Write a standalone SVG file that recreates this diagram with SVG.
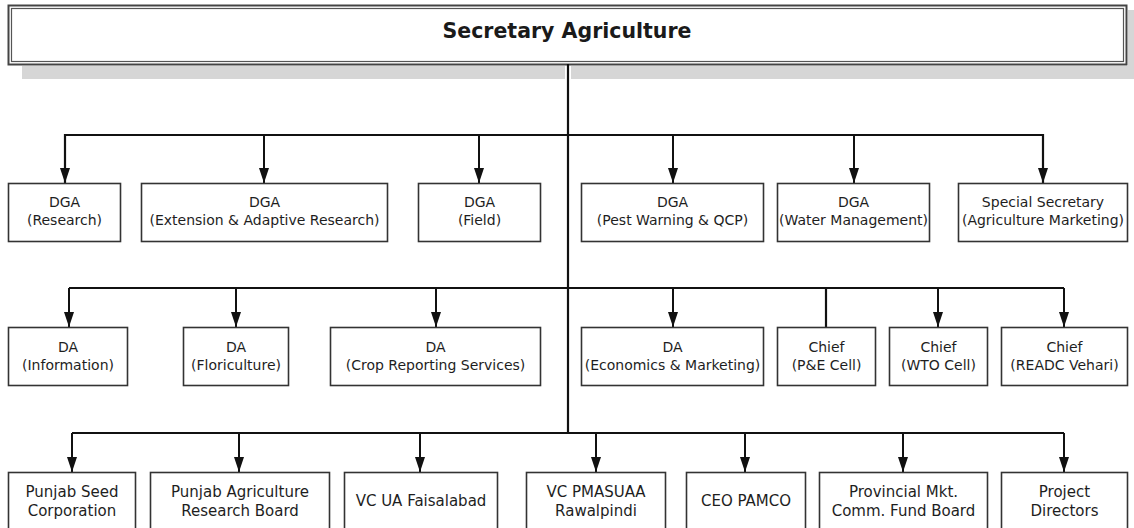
<svg xmlns="http://www.w3.org/2000/svg" width="1134" height="528" viewBox="0 0 1134 528">
<defs>
<marker id="arr" viewBox="0 0 15 10" refX="15" refY="5" markerWidth="15" markerHeight="10" markerUnits="userSpaceOnUse" orient="auto">
<path d="M0,0 L15,5 L0,10 z" fill="#111"/>
</marker>
</defs>
<style>
.box{fill:#fff;stroke:#333;stroke-width:1.6}
.t{font-family:"DejaVu Sans",Verdana,sans-serif;font-size:14px;fill:#1e1e1e;text-anchor:middle}
.t3{font-family:"DejaVu Sans",Verdana,sans-serif;font-size:15px;fill:#1e1e1e;text-anchor:middle}
.title{font-family:"DejaVu Sans",Verdana,sans-serif;font-size:20.5px;font-weight:bold;fill:#1a1a1a;text-anchor:middle}
.ln{fill:none;stroke:#111;stroke-width:2.2}
.ar{fill:none;stroke:#111;stroke-width:2;marker-end:url(#arr)}
</style>
<rect x="0" y="0" width="1134" height="528" fill="#fff"/>

<g id="top">
<rect x="22" y="66" width="543" height="13" fill="#d6d6d6"/>
<rect x="571" y="66" width="563" height="13" fill="#d6d6d6"/>
<rect x="1128" y="10" width="6" height="60" fill="#d6d6d6"/>
<rect x="8.5" y="5.5" width="1118" height="59" fill="#fff" stroke="#444" stroke-width="2"/>
<rect x="11.5" y="8.5" width="1112" height="53" fill="none" stroke="#555" stroke-width="1.2"/>
<text class="title" x="567" y="38">Secretary Agriculture</text>
</g>

<g id="connectors">
<line class="ln" x1="568" y1="64" x2="568" y2="434" stroke-width="3"/>
<polyline class="ln" points="65,184 65,135 1043,135 1043,184" style="fill:none"/>
<line class="ar" x1="65" y1="135" x2="65" y2="183"/>
<line class="ar" x1="264" y1="135" x2="264" y2="183"/>
<line class="ar" x1="479" y1="135" x2="479" y2="183"/>
<line class="ar" x1="673" y1="135" x2="673" y2="183"/>
<line class="ar" x1="854" y1="135" x2="854" y2="183"/>
<line class="ar" x1="1043" y1="135" x2="1043" y2="183"/>

<line class="ln" x1="69" y1="288" x2="1064" y2="288"/>
<line class="ar" x1="69" y1="288" x2="69" y2="327"/>
<line class="ar" x1="236" y1="288" x2="236" y2="327"/>
<line class="ar" x1="436" y1="288" x2="436" y2="327"/>
<line class="ar" x1="673" y1="288" x2="673" y2="327"/>
<line class="ln" x1="826" y1="288" x2="826" y2="327" stroke-width="1.8"/>
<line class="ar" x1="938" y1="288" x2="938" y2="327"/>
<line class="ar" x1="1064" y1="288" x2="1064" y2="327"/>

<line class="ln" x1="72" y1="433" x2="1064" y2="433"/>
<line class="ar" x1="72" y1="433" x2="72" y2="472"/>
<line class="ar" x1="239" y1="433" x2="239" y2="472"/>
<line class="ar" x1="420" y1="433" x2="420" y2="472"/>
<line class="ar" x1="596" y1="433" x2="596" y2="472"/>
<line class="ar" x1="745" y1="433" x2="745" y2="472"/>
<line class="ar" x1="903" y1="433" x2="903" y2="472"/>
<line class="ar" x1="1064" y1="433" x2="1064" y2="472"/>
</g>

<g id="r1n1"><rect class="box" x="8.5" y="183.5" width="112" height="58"/><text class="t" x="64.5" y="207">DGA</text><text class="t" x="64.5" y="225">(Research)</text></g>
<g id="r1n2"><rect class="box" x="141.5" y="183.5" width="246" height="58"/><text class="t" x="264.5" y="207">DGA</text><text class="t" x="264.5" y="225">(Extension &amp; Adaptive Research)</text></g>
<g id="r1n3"><rect class="box" x="418.5" y="183.5" width="122" height="58"/><text class="t" x="479.5" y="207">DGA</text><text class="t" x="479.5" y="225">(Field)</text></g>
<g id="r1n4"><rect class="box" x="581.5" y="183.5" width="182" height="58"/><text class="t" x="672.5" y="207">DGA</text><text class="t" x="672.5" y="225">(Pest Warning &amp; QCP)</text></g>
<g id="r1n5"><rect class="box" x="777.5" y="183.5" width="152" height="58"/><text class="t" x="853.5" y="207">DGA</text><text class="t" x="853.5" y="225">(Water Management)</text></g>
<g id="r1n6"><rect class="box" x="958.5" y="183.5" width="169" height="58"/><text class="t" x="1043" y="207">Special Secretary</text><text class="t" x="1043" y="225">(Agriculture Marketing)</text></g>

<g id="r2n1"><rect class="box" x="8.5" y="327.5" width="119" height="58"/><text class="t" x="68" y="352">DA</text><text class="t" x="68" y="370">(Information)</text></g>
<g id="r2n2"><rect class="box" x="183.5" y="327.5" width="105" height="58"/><text class="t" x="236" y="352">DA</text><text class="t" x="236" y="370">(Floriculture)</text></g>
<g id="r2n3"><rect class="box" x="330.5" y="327.5" width="210" height="58"/><text class="t" x="435.5" y="352">DA</text><text class="t" x="435.5" y="370">(Crop Reporting Services)</text></g>
<g id="r2n4"><rect class="box" x="581.5" y="327.5" width="182" height="58"/><text class="t" x="672.5" y="352">DA</text><text class="t" x="672.5" y="370">(Economics &amp; Marketing)</text></g>
<g id="r2n5"><rect class="box" x="777.5" y="327.5" width="98" height="58"/><text class="t" x="826.5" y="352">Chief</text><text class="t" x="826.5" y="370">(P&amp;E Cell)</text></g>
<g id="r2n6"><rect class="box" x="889.5" y="327.5" width="98" height="58"/><text class="t" x="938.5" y="352">Chief</text><text class="t" x="938.5" y="370">(WTO Cell)</text></g>
<g id="r2n7"><rect class="box" x="1001.5" y="327.5" width="126" height="58"/><text class="t" x="1064.5" y="352">Chief</text><text class="t" x="1064.5" y="370">(READC Vehari)</text></g>

<g id="r3n1"><rect class="box" x="8.5" y="472.5" width="127" height="70"/><text class="t3" x="72" y="497">Punjab Seed</text><text class="t3" x="72" y="516">Corporation</text></g>
<g id="r3n2"><rect class="box" x="150.5" y="472.5" width="179" height="70"/><text class="t3" x="240" y="497">Punjab Agriculture</text><text class="t3" x="240" y="516">Research Board</text></g>
<g id="r3n3"><rect class="box" x="344.5" y="472.5" width="153" height="70"/><text class="t3" x="421" y="506">VC UA Faisalabad</text></g>
<g id="r3n4"><rect class="box" x="526.5" y="472.5" width="139" height="70"/><text class="t3" x="596" y="497">VC PMASUAA</text><text class="t3" x="596" y="516">Rawalpindi</text></g>
<g id="r3n5"><rect class="box" x="686.5" y="472.5" width="119" height="70"/><text class="t3" x="746" y="506">CEO PAMCO</text></g>
<g id="r3n6"><rect class="box" x="819.5" y="472.5" width="168" height="70"/><text class="t3" x="903.5" y="497">Provincial Mkt.</text><text class="t3" x="903.5" y="516">Comm. Fund Board</text></g>
<g id="r3n7"><rect class="box" x="1001.5" y="472.5" width="126" height="70"/><text class="t3" x="1064.5" y="497">Project</text><text class="t3" x="1064.5" y="516">Directors</text></g>
</svg>
